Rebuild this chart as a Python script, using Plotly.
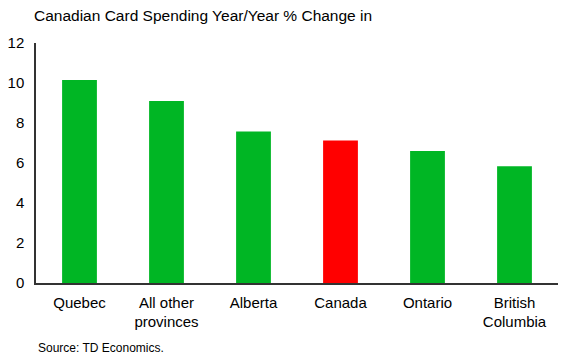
import plotly.graph_objects as go

categories = ["Quebec", "All other<br>provinces", "Alberta", "Canada", "Ontario", "British<br>Columbia"]
values = [10.15, 9.1, 7.57, 7.12, 6.6, 5.84]
colors = ["#00B624", "#00B624", "#00B624", "#FF0000", "#00B624", "#00B624"]

fig = go.Figure(go.Bar(x=categories, y=values, marker=dict(color=colors, line=dict(width=0)), width=0.4))

fig.update_layout(
    width=562, height=354,
    margin=dict(l=36, r=4, t=43, b=71),
    paper_bgcolor="white", plot_bgcolor="white",
    font=dict(family="Liberation Sans, Arial", size=15, color="#000"),
    showlegend=False,
    xaxis=dict(showline=True, linecolor="#333", linewidth=1.5, showgrid=False,
               ticks="outside", ticklen=5, tickcolor="rgba(0,0,0,0)",
               tickfont=dict(size=15)),
    yaxis=dict(range=[0, 12], dtick=2, showline=True, linecolor="#333", linewidth=1.5,
               showgrid=False, zeroline=False, ticks="outside", ticklen=7,
               tickcolor="rgba(0,0,0,0)", tickfont=dict(size=15)),
    annotations=[
        dict(text="Canadian Card Spending Year/Year % Change in", xref="paper", yref="paper",
             x=-0.008, y=1.0, xanchor="left", yanchor="bottom", yshift=17,
             showarrow=False, font=dict(size=15.5)),
        dict(text="Source: TD Economics.", xref="paper", yref="paper",
             x=0.0, y=0, xanchor="left", yanchor="top", yshift=-56,
             showarrow=False, font=dict(size=12)),
    ],
)

fig.write_html("out.html")
